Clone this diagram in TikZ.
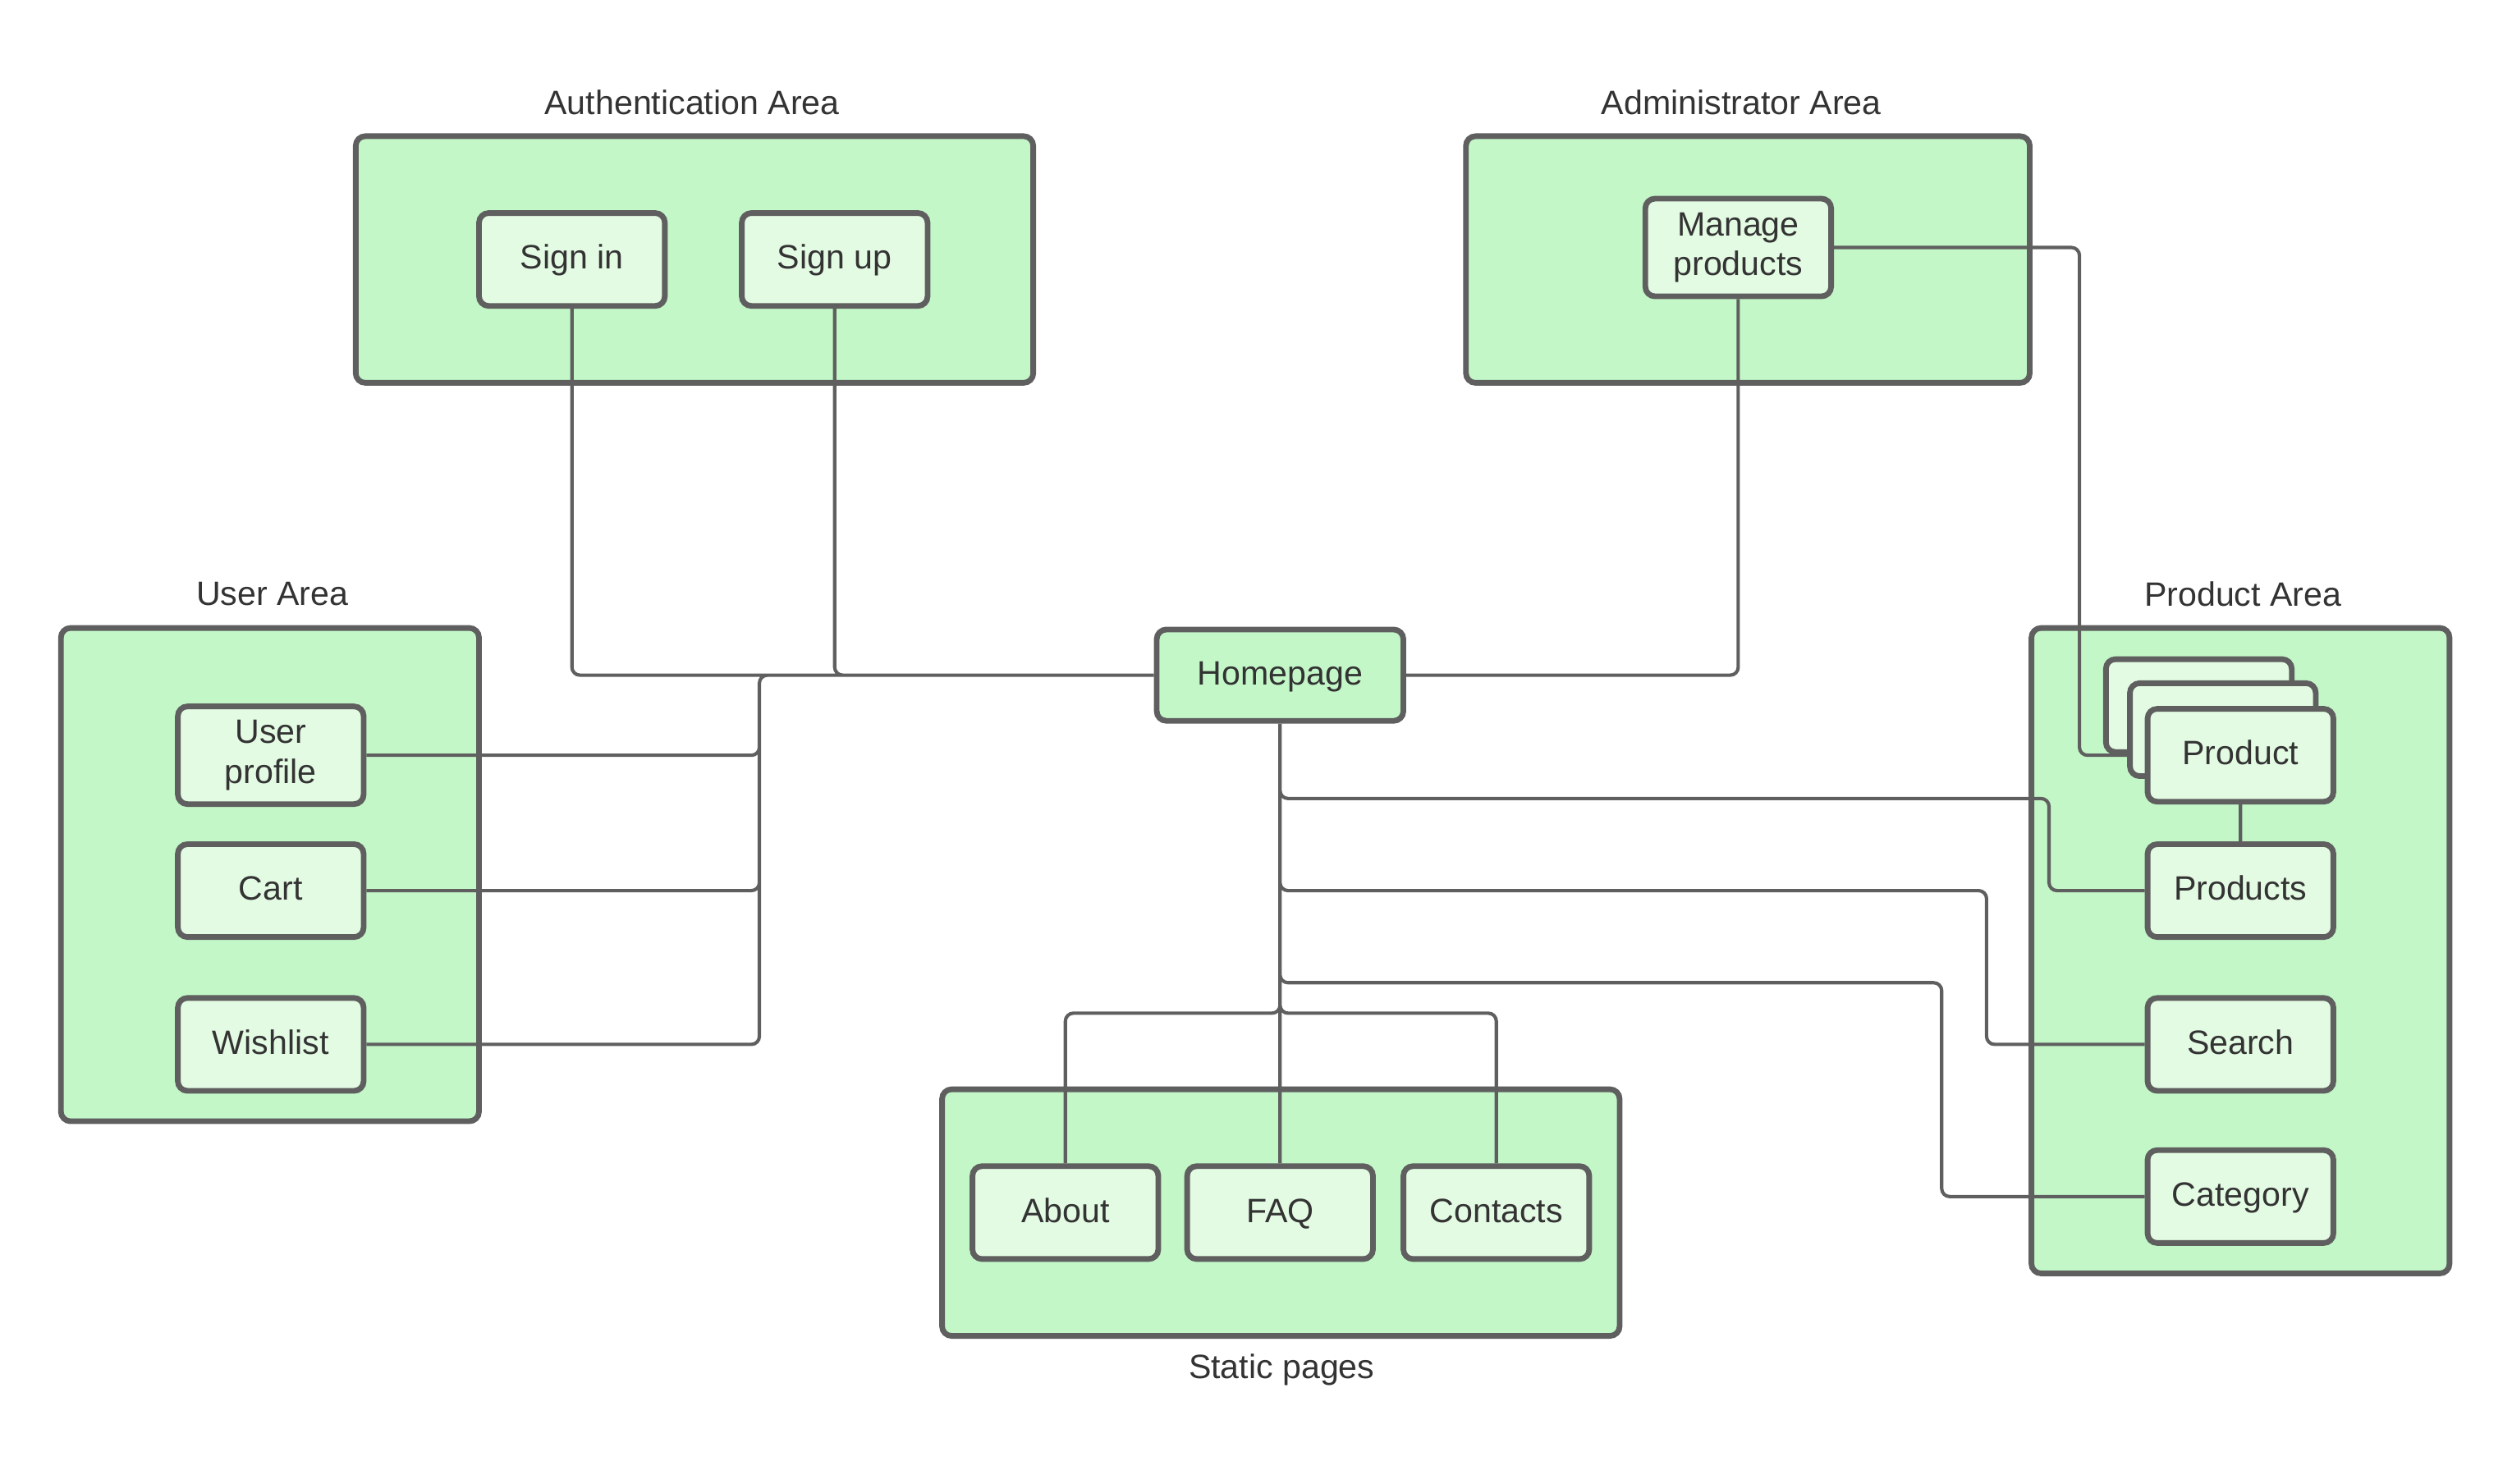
\documentclass[tikz,border=0pt]{standalone}
\usepackage{fontspec}
\setmainfont{Liberation Sans}
\usepackage{xcolor}
\usetikzlibrary{positioning}
\definecolor{areagreen}{HTML}{C3F7C8}
\definecolor{pagegreen}{HTML}{E3FAE3}
\definecolor{linegray}{HTML}{5F5F5F}
\definecolor{textgray}{HTML}{333333}
\pgfdeclarelayer{areas}
\pgfdeclarelayer{wires}
\pgfsetlayers{areas,wires,main}

\begin{document}
\begin{tikzpicture}[x=0.02cm, y=-0.02cm,
  font=\fontsize{12pt}{14.2pt}\selectfont,
  area box/.style={draw=linegray, fill=areagreen, line width=2pt, rounded corners=0.12cm, inner sep=0pt},
  page frame/.style={draw=linegray, fill=pagegreen, line width=2pt, rounded corners=0.12cm,
    minimum width=2.32cm, minimum height=1.16cm, align=center, text=textgray, inner sep=2pt},
  page box/.style={page frame, execute at begin node={\rule[-0.15cm]{0pt}{0.54cm}}},
  two lines/.style={page frame, minimum height=1.22cm, execute at begin node={\rule{0pt}{0.47cm}}},
  area label/.style={text=textgray},
  wire/.style={draw=linegray, line width=1.2pt, rounded corners=0.1cm}]

  \useasboundingbox (0,0) rectangle (1568,926.4);

  % the areas
  \begin{pgfonlayer}{areas}
    \node[area box, minimum width=8.46cm, minimum height=3.08cm] (Auth) at (433.5,162) {};
    \node[area box, minimum width=7.04cm, minimum height=3.08cm] (Admin) at (1091,162) {};
    \node[area box, minimum width=5.22cm, minimum height=6.16cm] (User) at (168.5,546) {};
    \node[area box, minimum width=5.22cm, minimum height=8.06cm] (Prod) at (1398.5,593.5) {};
    \node[area box, minimum width=8.46cm, minimum height=3.08cm] (Static) at (799.5,757) {};
  \end{pgfonlayer}

  \node[area label] (AuthLabel) at (432,64) {Authentication Area};
  \node[area label] (AdminLabel) at (1087,64) {Administrator Area};
  \node[area label] (UserLabel) at (170,371) {User Area};
  \node[area label] (ProdLabel) at (1400,371) {Product Area};
  \node[area label] (StaticLabel) at (800,855) {Static pages};

  % the pages
  \node[page box, fill=areagreen, minimum width=3.08cm, minimum height=1.14cm] (Home) at (799,421.5) {Homepage};
  \node[page box] (SignIn) at (357,162) {Sign in};
  \node[page box] (SignUp) at (521,162) {Sign up};
  \node[two lines] (Manage) at (1085,154.5) {Manage\\products};
  \node[two lines] (Profile) at (169,471.5) {User\\profile};
  \node[page box] (Cart) at (169,556) {Cart};
  \node[page box] (Wishlist) at (169,652) {Wishlist};
  \node[page box] (About) at (665,757) {About};
  \node[page box] (FAQ) at (799,757) {FAQ};
  \node[page box] (Contacts) at (934,757) {Contacts};
  \node[page box] (ProductBackA) at (1372.5,440.5) {};
  \node[page box] (ProductBackB) at (1387.5,455.5) {};
  \node[page box] (Product) at (1398.5,471.5) {Product};
  \node[page box] (Products) at (1398.5,556) {Products};
  \node[page box] (Search) at (1398.5,652) {Search};
  \node[page box] (Category) at (1398.5,747) {Category};

  \coordinate (LeftBus) at (474,421.5);
  \coordinate (ProdBus) at (1298,0);
  \coordinate (Split) at (799,632.5);
  \coordinate (ToProducts) at (1279,498.5);
  \coordinate (ToSearch) at (1240,556);
  \coordinate (ToCategory) at (1212,613.5);

  % the links
  \begin{pgfonlayer}{wires}
    \path[wire]
      (SignIn.south) |- (Home.west)
      (SignUp.south) |- (Home.west)
      (Home.west) -- (LeftBus) |- (Profile.east)
      (Home.west) -- (LeftBus) |- (Cart.east)
      (Home.west) -- (LeftBus) |- (Wishlist.east)
      (Home.east) -| (Manage.south)
      (Manage.east) -- (Manage.east -| ProdBus) |- (Product.west)
      (Home.south) |- (ToProducts) |- (Products.west)
      (Home.south) |- (ToSearch) |- (Search.west)
      (Home.south) |- (ToCategory) |- (Category.west)
      (Home.south) -- (Split) -| (About.north)
      (Home.south) -- (Split) -| (Contacts.north)
      (Home.south) -- (FAQ.north)
      (Product.south) -- (Products.north);
  \end{pgfonlayer}
\end{tikzpicture}
\end{document}
